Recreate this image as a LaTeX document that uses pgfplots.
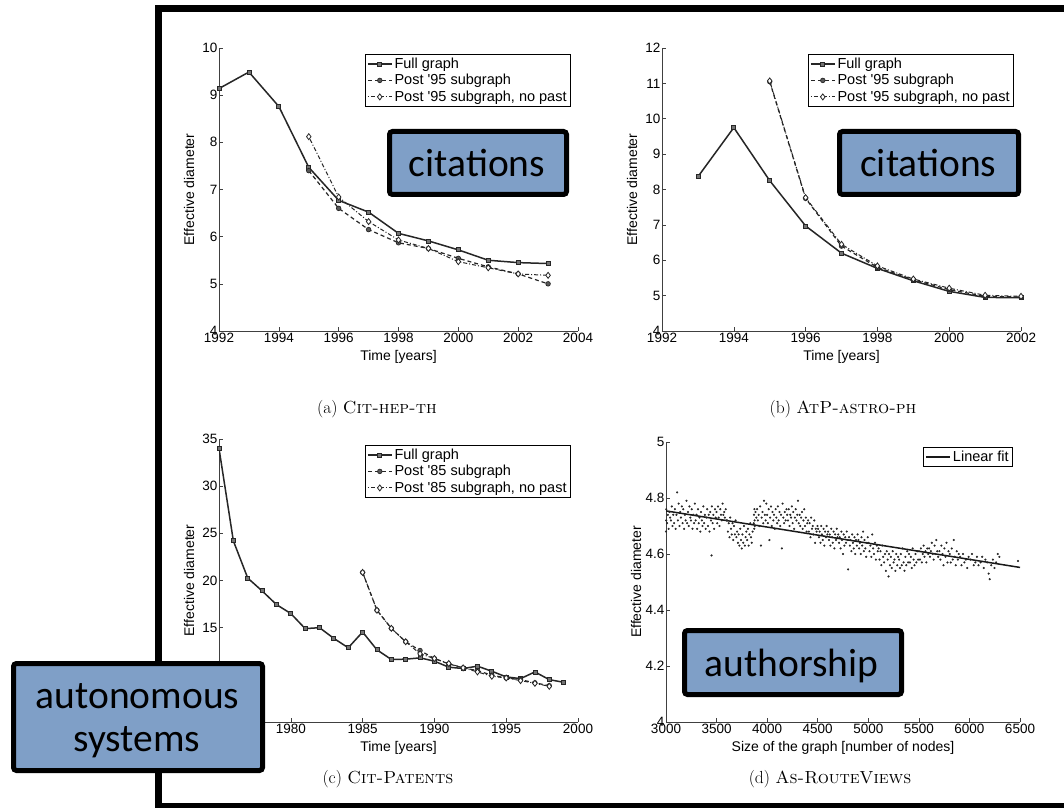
\documentclass[border=0pt]{standalone}
\usepackage{fontspec}
\setsansfont{Liberation Sans}
\newfontfamily\carlito{Carlito}
\usepackage{pgfplots}
\pgfplotsset{compat=1.18}
\definecolor{boxblue}{RGB}{127,159,199}

\pgfplotsset{
  mstyle/.style={
    scale only axis,
    axis x line=bottom, axis y line=left,
    axis line style={-, black!75, line width=0.7pt},
    tick style={black!75, line width=0.6pt},
    tick align=inside,
    major tick length=4pt,
    /pgf/number format/1000 sep={},
    /pgf/number format/assume math mode=true,
    tick label style={font=\sffamily\fontsize{13.5}{15}\selectfont},
    yticklabel style={inner sep=1.5pt},
    xticklabel style={inner sep=2pt},
    every axis x label/.style={at={(axis description cs:0.5,0)}, anchor=center, yshift=-26pt, font=\sffamily\fontsize{14}{16}\selectfont},
    every axis y label/.style={at={(axis description cs:0,0.5)}, anchor=center, rotate=90, yshift=30pt, font=\sffamily\fontsize{14}{16}\selectfont},
    legend style={font=\sffamily\fontsize{14.5}{16}\selectfont, at={(1,1)}, anchor=north east,
      xshift=-7pt, yshift=-6pt, draw=black, line width=0.8pt, inner xsep=2pt, inner ysep=1.5pt,
      row sep=0.5pt},
    legend cell align=left,
    legend image code/.code={\draw[mark repeat=2,mark phase=2,#1] plot coordinates {(0pt,0pt) (12pt,0pt) (24pt,0pt)};},
  },
  fullg/.style={line width=1.5pt, black!85, mark=square*, mark size=2pt, mark options={solid, fill=black!55, line width=0.8pt}},
  subg/.style={line width=1.2pt, black!85, dash pattern=on 4pt off 3pt, mark=*, mark size=2.3pt, mark options={solid, fill=black!65, line width=0.7pt}},
  nopast/.style={line width=1.0pt, black!85, dash pattern=on 1pt off 2pt on 4pt off 2pt, mark=diamond*, mark size=3pt, mark options={solid, fill=white, line width=0.8pt}},
}

\pgfplotstableread{
x y
3000 4.68
3002 4.72
3003 4.76
3011 4.71
3018 4.74
3026 4.69
3034 4.75
3041 4.73
3049 4.72
3057 4.77
3064 4.70
3072 4.74
3080 4.71
3088 4.76
3095 4.69
3103 4.74
3110 4.82
3118 4.72
3125 4.78
3133 4.70
3141 4.75
3148 4.73
3156 4.77
3164 4.71
3171 4.76
3179 4.69
3187 4.74
3194 4.72
3202 4.79
3209 4.71
3217 4.75
3224 4.70
3232 4.77
3240 4.73
3247 4.72
3255 4.76
3262 4.69
3270 4.74
3278 4.71
3285 4.78
3293 4.72
3301 4.74
3308 4.69
3316 4.76
3323 4.71
3331 4.73
3339 4.68
3346 4.75
3354 4.72
3361 4.70
3369 4.77
3377 4.71
3384 4.74
3392 4.69
3400 4.73
3407 4.76
3415 4.70
3422 4.74
3430 4.68
3438 4.75
3445 4.72
3450 4.595
3453 4.77
3461 4.71
3468 4.74
3476 4.69
3484 4.76
3491 4.73
3499 4.75
3506 4.71
3514 4.77
3521 4.73
3529 4.70
3537 4.76
3544 4.74
3552 4.72
3559 4.78
3567 4.74
3575 4.75
3582 4.73
3590 4.76
3597 4.72
3605 4.72
3612 4.68
3620 4.71
3627 4.66
3635 4.73
3643 4.69
3650 4.67
3658 4.71
3665 4.65
3673 4.70
3681 4.67
3688 4.72
3696 4.66
3703 4.68
3711 4.64
3718 4.67
3726 4.63
3734 4.69
3741 4.65
3749 4.62
3756 4.67
3764 4.64
3772 4.70
3779 4.63
3787 4.66
3794 4.68
3802 4.65
3810 4.69
3817 4.63
3825 4.67
3833 4.71
3840 4.66
3848 4.64
3856 4.68
3868 4.71
3870 4.74
3872 4.69
3874 4.76
3876 4.72
3878 4.70
3885 4.75
3893 4.73
3901 4.76
3908 4.72
3916 4.74
3923 4.70
3931 4.77
3939 4.63
3946 4.73
3954 4.75
3962 4.71
3969 4.79
3977 4.74
3985 4.72
3992 4.78
4000 4.74
4007 4.71
4015 4.76
4022 4.65
4030 4.73
4038 4.77
4045 4.70
4053 4.75
4061 4.72
4068 4.74
4076 4.69
4084 4.76
4091 4.73
4099 4.71
4106 4.77
4114 4.72
4122 4.75
4129 4.70
4137 4.74
4145 4.62
4152 4.78
4160 4.73
4168 4.71
4175 4.75
4183 4.72
4191 4.76
4198 4.74
4206 4.72
4213 4.76
4221 4.70
4229 4.74
4236 4.73
4244 4.77
4252 4.71
4259 4.75
4267 4.69
4275 4.73
4282 4.76
4290 4.72
4298 4.74
4305 4.79
4313 4.71
4321 4.74
4328 4.70
4336 4.73
4344 4.75
4351 4.69
4359 4.72
4367 4.76
4374 4.70
4382 4.73
4390 4.68
4397 4.71
4405 4.72
4412 4.68
4420 4.71
4428 4.66
4435 4.73
4443 4.69
4451 4.70
4458 4.67
4466 4.72
4474 4.64
4481 4.69
4489 4.68
4497 4.70
4504 4.69
4512 4.66
4519 4.68
4527 4.64
4535 4.70
4542 4.67
4550 4.65
4558 4.69
4565 4.63
4573 4.68
4581 4.66
4588 4.70
4596 4.67
4603 4.68
4611 4.65
4619 4.67
4626 4.63
4634 4.69
4642 4.66
4649 4.64
4657 4.68
4665 4.62
4672 4.67
4680 4.65
4688 4.69
4695 4.66
4703 4.67
4711 4.64
4718 4.66
4726 4.62
4734 4.68
4741 4.65
4749 4.60
4757 4.67
4764 4.63
4772 4.66
4780 4.64
4787 4.68
4795 4.65
4800 4.545
4810 4.66
4818 4.63
4825 4.65
4833 4.61
4841 4.67
4848 4.64
4856 4.62
4864 4.66
4871 4.60
4879 4.65
4887 4.63
4894 4.67
4902 4.65
4910 4.62
4917 4.64
4925 4.60
4933 4.66
4940 4.63
4948 4.68
4956 4.61
4963 4.65
4971 4.62
4979 4.59
4986 4.64
4994 4.66
5003 4.64
5012 4.61
5021 4.63
5030 4.59
5039 4.67
5048 4.62
5057 4.60
5066 4.64
5075 4.58
5084 4.63
5093 4.61
5102 4.62
5111 4.58
5120 4.61
5129 4.56
5138 4.63
5147 4.59
5156 4.57
5165 4.60
5174 4.54
5183 4.61
5192 4.58
5200 4.52
5205 4.60
5214 4.56
5223 4.59
5232 4.55
5241 4.61
5250 4.57
5259 4.58
5268 4.54
5277 4.60
5286 4.56
5295 4.59
5304 4.58
5313 4.55
5322 4.60
5331 4.56
5340 4.62
5349 4.57
5358 4.54
5367 4.59
5376 4.56
5385 4.61
5394 4.57
5403 4.60
5412 4.57
5421 4.59
5430 4.55
5439 4.62
5448 4.58
5457 4.56
5466 4.60
5475 4.57
5484 4.61
5493 4.58
5502 4.61
5511 4.58
5520 4.62
5529 4.57
5538 4.60
5547 4.63
5556 4.59
5565 4.61
5574 4.57
5583 4.62
5592 4.60
5601 4.62
5610 4.59
5619 4.61
5628 4.64
5637 4.60
5646 4.58
5655 4.63
5664 4.60
5673 4.65
5682 4.61
5691 4.59
5703 4.61
5713 4.58
5723 4.63
5733 4.60
5743 4.56
5753 4.62
5763 4.59
5773 4.64
5783 4.57
5793 4.61
5805 4.60
5815 4.57
5825 4.62
5835 4.58
5845 4.65
5855 4.59
5865 4.56
5875 4.61
5885 4.58
5895 4.60
5908 4.59
5922 4.56
5936 4.60
5950 4.57
5964 4.58
5978 4.55
5992 4.59
6010 4.58
6026 4.60
6042 4.56
6058 4.57
6074 4.59
6090 4.56
6110 4.57
6126 4.59
6142 4.55
6158 4.58
6174 4.57
6190 4.53
6200 4.51
6215 4.56
6232 4.58
6248 4.55
6264 4.57
6280 4.60
6296 4.59
6480 4.575
}\routeviews

\begin{document}
\begin{tikzpicture}[x=1pt,y=1pt]
\path[use as bounding box] (0,0) rectangle (1064,807);
\fill[white] (0,0) rectangle (1064,807);

% frame
\draw[line width=7pt, line join=miter] (158.5,-10) -- (158.5,798.5) -- (1080,798.5);
\draw[line width=7pt] (158.5,0.5) -- (1080,0.5);

% (a)
\begin{axis}[mstyle, at={(219pt,476pt)}, anchor=south west, width=359pt, height=283pt,
  xmin=1992, xmax=2004, ymin=4, ymax=10,
  xtick={1992,1994,1996,1998,2000,2002,2004}, ytick={4,5,6,7,8,9,10},
  xlabel={Time [years]}, ylabel={Effective diameter}]
\addplot[fullg] coordinates {(1992,9.14) (1993,9.49) (1994,8.76) (1995,7.47) (1996,6.77) (1997,6.52) (1998,6.07) (1999,5.91) (2000,5.72) (2001,5.50) (2002,5.45) (2003,5.43)};
\addplot[subg] coordinates {(1995,7.40) (1996,6.60) (1997,6.15) (1998,5.87) (1999,5.75) (2000,5.54) (2001,5.36) (2002,5.21) (2003,5.00)};
\addplot[nopast] coordinates {(1995,8.12) (1996,6.84) (1997,6.32) (1998,5.93) (1999,5.75) (2000,5.47) (2001,5.34) (2002,5.21) (2003,5.18)};
\legend{Full graph, Post \textquotesingle 95 subgraph, {Post \textquotesingle 95 subgraph, no past}}
\end{axis}

% (b)
\begin{axis}[mstyle, at={(662pt,476pt)}, anchor=south west, width=359pt, height=283pt,
  xmin=1992, xmax=2002, ymin=4, ymax=12,
  xtick={1992,1994,1996,1998,2000,2002}, ytick={4,5,6,7,8,9,10,11,12},
  xlabel={Time [years]}, ylabel={Effective diameter}]
\addplot[fullg] coordinates {(1993,8.36) (1994,9.75) (1995,8.25) (1996,6.97) (1997,6.20) (1998,5.77) (1999,5.42) (2000,5.12) (2001,4.95) (2002,4.94)};
\addplot[subg] coordinates {(1995,11.05) (1996,7.75) (1997,6.40) (1998,5.80) (1999,5.45) (2000,5.17) (2001,4.98) (2002,4.96)};
\addplot[nopast] coordinates {(1995,11.07) (1996,7.77) (1997,6.45) (1998,5.84) (1999,5.47) (2000,5.21) (2001,5.01) (2002,4.98)};
\legend{Full graph, Post \textquotesingle 95 subgraph, {Post \textquotesingle 95 subgraph, no past}}
\end{axis}

% (c)
\begin{axis}[mstyle, at={(219pt,85pt)}, anchor=south west, width=359pt, height=283pt,
  xmin=1975, xmax=2000, ymin=5, ymax=35,
  xtick={1975,1980,1985,1990,1995,2000}, ytick={5,10,15,20,25,30,35},
  xlabel={Time [years]}, ylabel={Effective diameter}]
\addplot[fullg] coordinates {(1975,34.0) (1976,24.2) (1977,20.26) (1978,18.9) (1979,17.45) (1980,16.5) (1981,14.9) (1982,15.0) (1983,13.86) (1984,12.87) (1985,14.54) (1986,12.65) (1987,11.63) (1988,11.66) (1989,11.8) (1990,11.45) (1991,10.81) (1992,10.67) (1993,10.92) (1994,10.38) (1995,9.78) (1996,9.60) (1997,10.31) (1998,9.49) (1999,9.21)};
\addplot[subg] coordinates {(1985,20.86) (1986,16.85) (1987,14.93) (1988,13.51) (1989,12.58) (1990,11.73) (1991,11.16) (1992,10.74) (1993,10.45) (1994,9.96) (1995,9.67) (1996,9.49) (1997,9.15) (1998,8.85)};
\addplot[nopast] coordinates {(1985,20.86) (1986,16.85) (1987,14.93) (1988,13.51) (1989,12.23) (1990,11.73) (1991,11.2) (1992,10.74) (1993,10.31) (1994,9.85) (1995,9.67) (1996,9.39) (1997,9.10) (1998,8.78)};
\legend{Full graph, Post \textquotesingle 85 subgraph, {Post \textquotesingle 85 subgraph, no past}}
\end{axis}

% (d)
\begin{axis}[mstyle, at={(666pt,85pt)}, anchor=south west, width=354pt, height=280pt,
  xmin=3000, xmax=6500, ymin=4, ymax=5,
  xtick={3000,3500,4000,4500,5000,5500,6000,6500}, ytick={4,4.2,4.4,4.6,4.8,5},
  xlabel={Size of the graph [number of nodes]}, ylabel={Effective diameter},
  legend style={yshift=1pt}]
\addplot[only marks, mark=*, mark size=0.85pt, black!85, forget plot] table[x=x,y=y] {\routeviews};
\addplot[line width=1.5pt, black!90, no marks] coordinates {(3000,4.754) (6500,4.552)};
\legend{Linear fit}
\end{axis}

% captions
\node[anchor=base, font=\fontsize{17.5}{20}\selectfont] at (377,394) {(a) \textsc{Cit-hep-th}};
\node[anchor=base, font=\fontsize{17.5}{20}\selectfont] at (843,394) {(b) \textsc{AtP-astro-ph}};
\node[anchor=base, font=\fontsize{17.5}{20}\selectfont] at (388,24) {(c) \textsc{Cit-Patents}};
\node[anchor=base, font=\fontsize{17.5}{20}\selectfont] at (830,24) {(d) \textsc{As-RouteViews}};

% overlay boxes
\draw[line width=5pt, fill=boxblue, rounded corners=3pt] (389.5,612.5) rectangle (566.5,675.5);
\node[anchor=base, font=\carlito\fontsize{39.5}{44}\selectfont] at (477,630.3) {citations};
\draw[line width=5pt, fill=boxblue, rounded corners=3pt] (839.5,612.5) rectangle (1018.5,675.5);
\node[anchor=base, font=\carlito\fontsize{39.5}{44}\selectfont] at (928.3,630.3) {citations};
\draw[line width=5pt, fill=boxblue, rounded corners=3pt] (684.5,112.5) rectangle (901.5,176.5);
\node[anchor=base, font=\carlito\fontsize{39.5}{44}\selectfont] at (791.7,130.3) {authorship};
\draw[line width=5pt, fill=boxblue, rounded corners=3pt] (13.5,36.5) rectangle (262.5,143.5);
\node[anchor=base, font=\carlito\fontsize{39.5}{44}\selectfont] at (137.5,98.7) {autonomous};
\node[anchor=base, font=\carlito\fontsize{39.5}{44}\selectfont] at (136.7,55.3) {systems};
\end{tikzpicture}
\end{document}
